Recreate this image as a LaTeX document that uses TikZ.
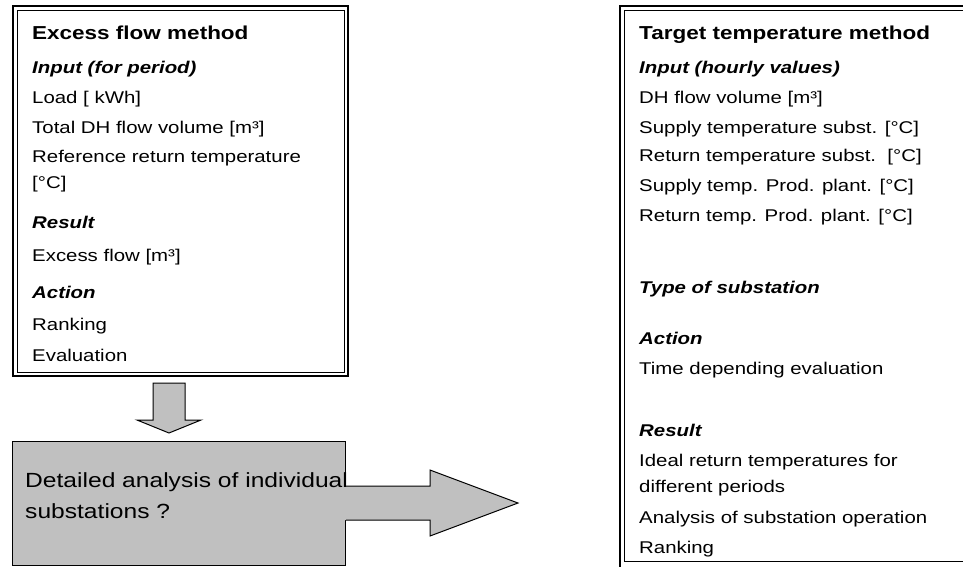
\documentclass[tikz,border=0pt]{standalone}
\usepackage{fontspec}
\setmainfont{Liberation Sans}[FakeStretch=1.2]
\definecolor{boxgray}{RGB}{192,192,192}
\tikzset{
  txt/.style={anchor=base west, inner sep=0pt, font=\fontsize{17}{20}\selectfont},
  hdr/.style={txt, font=\fontsize{17}{20}\selectfont\bfseries\itshape},
  ttl/.style={txt, font=\fontsize{18.75}{22}\selectfont\bfseries},
  bigtxt/.style={txt, font=\fontsize{20.5}{24}\selectfont},
  outerline/.style={line width=2pt},
  innerline/.style={line width=1.2pt},
  blockarrow/.style={fill=boxgray, draw=black, line width=1pt, line join=miter},
}
\begin{document}
\begin{tikzpicture}[x=1pt,y=-1pt]
\useasboundingbox (0,0) rectangle (963,566);
\clip (0,0) rectangle (963,566);

% ---------- left box ----------
\node (excess) [draw, innerline, rectangle, inner sep=0pt, anchor=north west,
  minimum width=327.5pt, minimum height=362pt] at (16.5,10) {};
\draw[outerline] (13,6.3) rectangle (348,376);

\node (e0) [ttl] at (32,39.5) {Excess flow method};
\node (e1) [hdr] at (32,73) {Input (for period)};
\node (e2) [txt] at (32,103) {Load [ kWh]};
\node (e3) [txt] at (32,133) {Total DH flow volume [m³]};
\node (e4) [txt] at (32,162) {Reference return temperature};
\node (e5) [txt] at (32,188) {[°C]};
\node (e6) [hdr] at (32,228) {Result};
\node (e7) [txt] at (32,261) {Excess flow [m³]};
\node (e8) [hdr] at (32,298) {Action};
\node (e9) [txt] at (32,330) {Ranking};
\node (e10) [txt] at (32,361) {Evaluation};

% ---------- right box ----------
\node (target) [draw, innerline, rectangle, inner sep=0pt, anchor=north west,
  minimum width=400pt, minimum height=551pt] at (624,10) {};
\draw[outerline] (1030,6.3) -- (620,6.3) -- (620,575);

\node (t0) [ttl] at (639,39.5) {Target temperature method};
\node (t1) [hdr] at (639,73) {Input (hourly values)};
\node (t2) [txt] at (639,103) {DH flow volume [m³]};
\node (t3) [txt] at (639,133) {Supply temperature subst. [°C]};
\node (t4) [txt] at (639,161) {Return temperature subst.\ \ [°C]};
\node (t5) [txt] at (639,191) {Supply temp. Prod. plant. [°C]};
\node (t6) [txt] at (639,221) {Return temp. Prod. plant. [°C]};
\node (t7) [hdr] at (639,293) {Type of substation};
\node (t8) [hdr] at (639,344) {Action};
\node (t9) [txt] at (639,374) {Time depending evaluation};
\node (t10) [hdr] at (639,436) {Result};
\node (t11) [txt] at (639,466) {Ideal return temperatures for};
\node (t12) [txt] at (639,492) {different periods};
\node (t13) [txt] at (639,523) {Analysis of substation operation};
\node (t14) [txt] at (639,553) {Ranking};

% ---------- down arrow ----------
\draw[blockarrow] (153,383) -- (185,383) -- (185,420) -- (201,420) -- (169,433)
  -- (137,420) -- (153,420) -- cycle;

% ---------- grey box ----------
\node (detail) [fill=boxgray, draw, line width=1pt, rectangle, inner sep=0pt,
  anchor=north west, minimum width=333pt, minimum height=124pt] at (12,441) {};

% ---------- right arrow ----------
\fill[boxgray] (343,486) -- (430,486) -- (430,470) -- (518,503) -- (430,536)
  -- (430,520) -- (343,520) -- cycle;
\draw[line width=1pt, line join=miter] (detail.east |- 0,486) -- (430,486) -- (430,470)
  -- (518,503) -- (430,536) -- (430,520) -- (detail.east |- 0,520);

\node (d1) [bigtxt] at (25,487) {Detailed analysis of individual};
\node (d2) [bigtxt] at (25,518) {substations ?};
\end{tikzpicture}
\end{document}
